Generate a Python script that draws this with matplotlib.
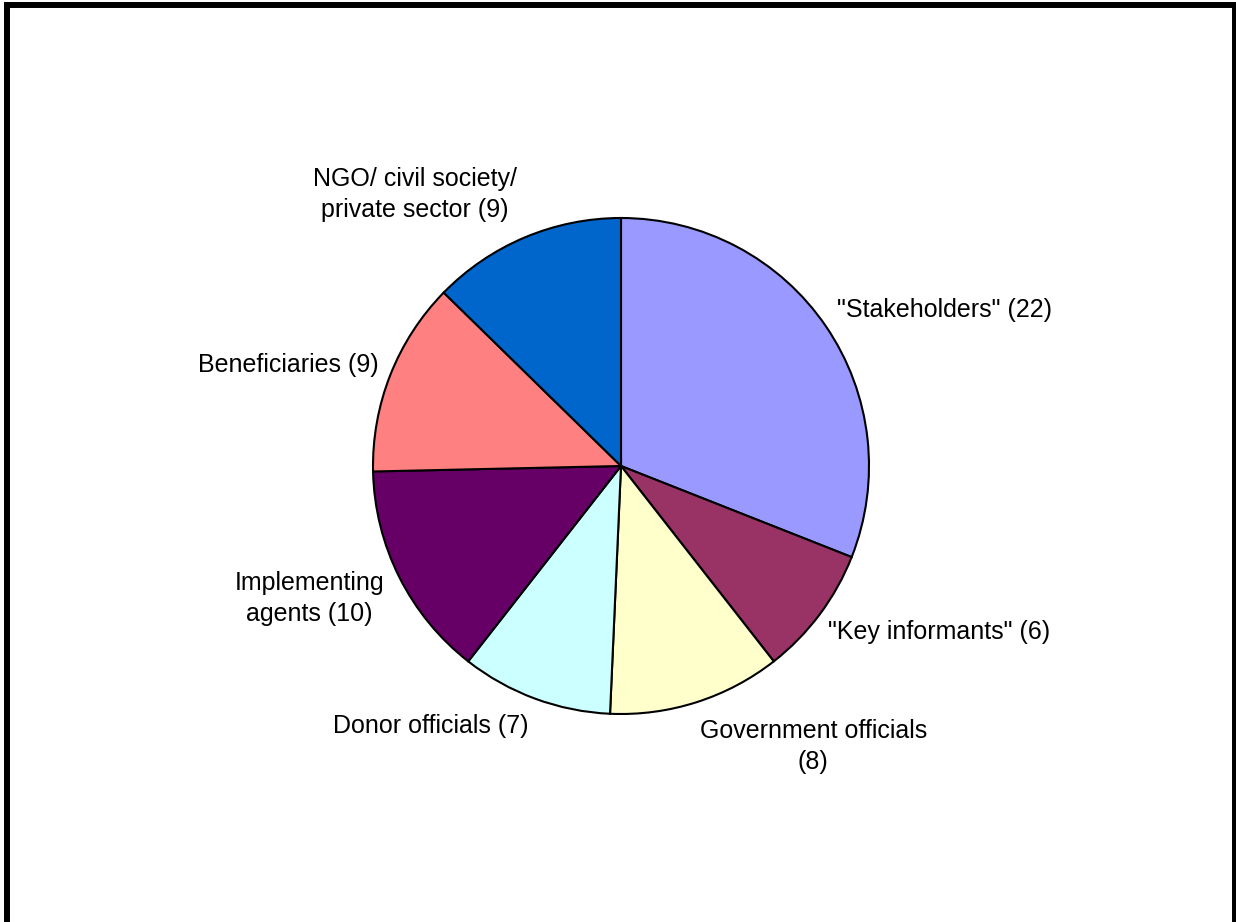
import matplotlib.pyplot as plt
import matplotlib.patches as mpatches
import numpy as np

labels = ['"Stakeholders" (22)', '"Key informants" (6)', 'Government officials\n(8)',
          'Donor officials (7)', 'Implementing\nagents (10)', 'Beneficiaries (9)',
          'NGO/ civil society/\nprivate sector (9)']
values = [22, 6, 8, 7, 10, 9, 9]
colors = ['#9999FF', '#993366', '#FFFFCC', '#CCFFFF', '#660066', '#FF8080', '#0066CC']

# label offsets in pixels from the rim point at each wedge's middle angle
label_off = [(11, 17), (8, -18), (3, -44), (-7, -27), (-15, -21), (-12, 10), (-8, 43)]

plt.rcParams['font.family'] = ['Liberation Sans', 'DejaVu Sans']

fig = plt.figure(figsize=(12.36, 9.22), dpi=100)
W, H = 1236, 922
# chart frame (bottom edge lies outside the picture)
fig.patches.append(mpatches.Rectangle((7 / W, -20 / H), (1235 - 7) / W, (H - 4.5 + 20) / H,
                                      transform=fig.transFigure, fill=False,
                                      edgecolor='black', linewidth=4.3))

cx, cy, r = 621, 466, 248
half = 1.25 * r
ax = fig.add_axes([(cx - half) / W, (H - cy - half) / H, 2 * half / W, 2 * half / H])

wedges, _ = ax.pie(values, colors=colors, startangle=90, counterclock=False,
                   wedgeprops=dict(edgecolor='black', linewidth=1.5))
ax.set_xlim(-1.25, 1.25)
ax.set_ylim(-1.25, 1.25)
ax.set_aspect('equal')
ax.axis('off')

for w, lab, off in zip(wedges, labels, label_off):
    ang = np.deg2rad((w.theta1 + w.theta2) / 2)
    x, y = np.cos(ang), np.sin(ang)
    ax.annotate(lab, xy=(x, y), xytext=off, textcoords='offset pixels',
                ha='left' if x > 0 else 'right', va='center',
                multialignment='center', linespacing=1.37, fontsize=18)

fig.savefig('out.png', dpi=100, facecolor='white')
